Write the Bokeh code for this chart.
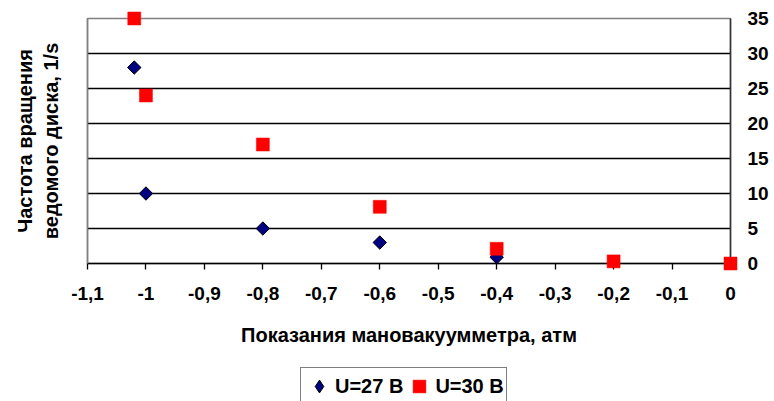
import numpy as np
from bokeh.plotting import figure
from bokeh.layouts import column
from bokeh.models import (Range1d, LinearAxis, FixedTicker, Legend, LegendItem)
from bokeh.embed import file_html
from bokeh.resources import INLINE

# ---- data ----
x_u27 = [-1.02, -1.0, -0.8, -0.6, -0.4]
y_u27 = [28, 10, 5, 3, 0.9]
x_u30 = [-1.02, -1.0, -0.8, -0.6, -0.4, -0.2, 0.0]
y_u30 = [35, 24, 17, 8.1, 2.1, 0.3, 0]

x_ticks = [-1.1, -1.0, -0.9, -0.8, -0.7, -0.6, -0.5, -0.4, -0.3, -0.2, -0.1, 0.0]
x_tick_labels = ["-1,1", "-1", "-0,9", "-0,8", "-0,7", "-0,6", "-0,5", "-0,4",
                 "-0,3", "-0,2", "-0,1", "0"]
y_ticks = [0, 5, 10, 15, 20, 25, 30, 35]
y_grid = [5, 10, 15, 20, 25, 30]

series_names = ["U=27 В", "U=30 В"]
x_title = "Показания мановакуумметра, атм"
y_title = "Частота вращения\nведомого диска, 1/s"

FONT = "Liberation Sans"
NAVY = "#000080"
RED = "#FF0000"

p = figure(width=774, height=360, output_backend="svg", toolbar_location=None,
           x_range=Range1d(-1.1, 0), y_range=Range1d(0, 35),
           y_axis_location="right",
           min_border_left=87, min_border_right=44,
           min_border_top=18, min_border_bottom=97,
           background_fill_color="white", border_fill_color="white",
           outline_line_color="#808080", outline_line_width=1.5)

# x axis
xa = p.xaxis[0]
xa.ticker = FixedTicker(ticks=x_ticks)
xa.major_label_overrides = {t: l for t, l in zip(x_ticks, x_tick_labels)}
xa.major_tick_out = 6
xa.major_tick_in = 0
xa.minor_tick_out = 0
xa.minor_tick_in = 0
xa.axis_line_color = "black"
xa.axis_line_width = 1.5
xa.major_tick_line_color = "black"
xa.major_tick_line_width = 1.3
xa.major_label_text_font = FONT
xa.major_label_text_font_style = "bold"
xa.major_label_text_font_size = "19px"
xa.major_label_text_color = "black"
xa.major_label_standoff = 17
xa.axis_label = x_title
xa.axis_label_text_font = FONT
xa.axis_label_text_font_style = "bold"
xa.axis_label_text_font_size = "20px"
xa.axis_label_text_color = "black"
xa.axis_label_standoff = 21

# right y axis (labels)
ya = p.yaxis[0]
ya.ticker = FixedTicker(ticks=y_ticks)
ya.major_tick_out = 0
ya.major_tick_in = 0
ya.minor_tick_out = 0
ya.minor_tick_in = 0
ya.axis_line_color = "#333333"
ya.axis_line_width = 1.5
ya.major_label_text_font = FONT
ya.major_label_text_font_style = "bold"
ya.major_label_text_font_size = "19px"
ya.major_label_text_color = "black"
ya.major_label_standoff = 17

# left y axis (title only)
la = LinearAxis(ticker=FixedTicker(ticks=[]))
la.major_label_standoff = 0
la.major_tick_out = 0
la.major_tick_in = 0
la.minor_tick_out = 0
la.minor_tick_in = 0
la.axis_line_color = "#808080"
la.axis_line_width = 1.5
la.axis_label = y_title
la.axis_label_text_font = FONT
la.axis_label_text_font_style = "bold"
la.axis_label_text_font_size = "20px"
la.axis_label_text_color = "black"
la.axis_label_text_line_height = 1.17
la.axis_label_standoff = 26
p.add_layout(la, "left")

# grid
p.xgrid.visible = False
p.ygrid.ticker = FixedTicker(ticks=y_grid)
p.ygrid.grid_line_color = "black"
p.ygrid.grid_line_width = 1.4

# series
r27 = p.scatter(x_u27, y_u27, marker="square", size=9.5, angle=np.pi / 4,
                fill_color=NAVY, line_color="black", line_width=1)
r30 = p.scatter(x_u30, y_u30, marker="square", size=13,
                fill_color=RED, line_color=RED, line_width=0.5)
r27.level = "overlay"
r30.level = "overlay"

# ---- legend strip (second figure under the chart; its frame is aligned
#      with the chart frame by the column layout) ----
p2 = figure(width=774, height=41, output_backend="svg", toolbar_location=None,
            x_range=Range1d(10, 11), y_range=Range1d(10, 11),
            min_border_left=87, min_border_right=44,
            min_border_top=0, min_border_bottom=0,
            outline_line_color=None, background_fill_color="white",
            border_fill_color="white")
p2.axis.visible = False
p2.grid.visible = False
# same series, same styles; out of this strip's view, only their legend glyphs show
l27 = p2.scatter(x_u27, y_u27, marker="diamond", size=9.5,
                 fill_color=NAVY, line_color="black", line_width=1)
l30 = p2.scatter(x_u30, y_u30, marker="square", size=13,
                 fill_color=RED, line_color=RED, line_width=0.5)

legend = Legend(items=[LegendItem(label=series_names[0], renderers=[l27]),
                       LegendItem(label=series_names[1], renderers=[l30])],
                orientation="horizontal", location=(213, -4),
                glyph_width=32, glyph_height=32, label_standoff=0, spacing=0,
                padding=2, margin=0,
                border_line_color="black", border_line_width=1,
                background_fill_color="white", background_fill_alpha=1,
                label_text_font=FONT, label_text_font_style="bold",
                label_text_font_size="20px", label_text_color="black")
p2.add_layout(legend, "center")

layout = column(p, p2, spacing=0)
open("out.html", "w").write(file_html(layout, INLINE))
